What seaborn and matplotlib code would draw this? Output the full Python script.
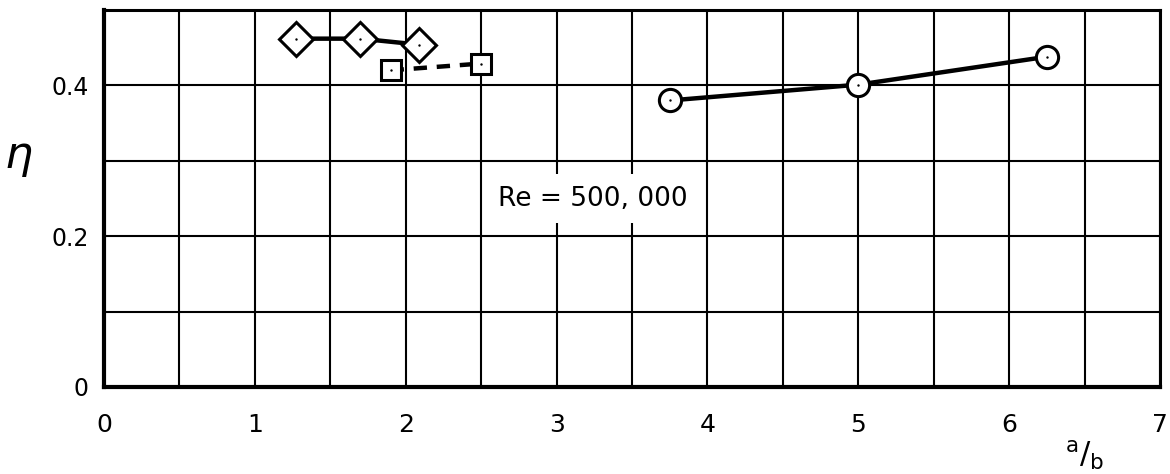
import numpy as np
import pandas as pd
import matplotlib
matplotlib.use("Agg")
import matplotlib.pyplot as plt
import seaborn as sns

# Efficiency eta versus a/b at Re = 500,000
diamond_ab = [1.27, 1.70, 2.09]
diamond_eta = [0.462, 0.462, 0.454]

square_ab = [1.90, 2.50]
square_eta = [0.420, 0.429]

circle_ab = [3.75, 5.00, 6.25]
circle_eta = [0.380, 0.401, 0.438]

x_ticks = [0, 1, 2, 3, 4, 5, 6, 7]
x_tick_labels = ["0", "1", "2", "3", "4", "5", "6", "7"]
y_ticks = [0.0, 0.2, 0.4]
y_tick_labels = ["0", "0.2", "0.4"]

sns.set_style("white")
plt.rcParams["font.family"] = ["DejaVu Sans"]
plt.rcParams["text.color"] = "black"
plt.rcParams["xtick.color"] = "black"
plt.rcParams["ytick.color"] = "black"

fig = plt.figure(figsize=(11.70, 4.74), dpi=100)
ax = fig.add_axes([104 / 1170, 1 - 387 / 474, (1160 - 104) / 1170, (387 - 10) / 474])

df_d = pd.DataFrame({"ab": diamond_ab, "eta": diamond_eta})
df_s = pd.DataFrame({"ab": square_ab, "eta": square_eta})
df_c = pd.DataFrame({"ab": circle_ab, "eta": circle_eta})

line_kw = dict(color="black", linewidth=3.2, markerfacecolor="white",
               markeredgecolor="black", markeredgewidth=2.2, ax=ax, zorder=5)

sns.lineplot(data=df_d, x="ab", y="eta", marker="D", markersize=17, **line_kw)
sns.lineplot(data=df_s, x="ab", y="eta", marker="s", markersize=15,
             linestyle=(0, (3, 2.2)), **line_kw)
sns.lineplot(data=df_c, x="ab", y="eta", marker="o", markersize=16, **line_kw)

# small centre dots in each symbol
for df in (df_d, df_s, df_c):
    sns.scatterplot(data=df, x="ab", y="eta", s=3, color="black", ax=ax,
                    zorder=6, linewidth=0)

ax.set_xlim(0, 7)
ax.set_ylim(0, 0.5)
ax.set_xticks(x_ticks)
ax.set_xticks(np.arange(0.5, 7, 1.0), minor=True)
ax.set_yticks(y_ticks)
ax.set_yticks([0.1, 0.3, 0.5], minor=True)
ax.grid(True, which="both", color="black", linewidth=1.5)
ax.set_axisbelow(True)
ax.set_xticklabels(x_tick_labels, fontsize=18)
ax.set_yticklabels(y_tick_labels, fontsize=17)
ax.tick_params(axis="x", which="both", length=0, pad=19)
ax.tick_params(axis="y", which="both", length=0, pad=11)
ax.set_xlabel("")
ax.set_ylabel("")

for side in ("left", "bottom"):
    ax.spines[side].set_linewidth(3.0)
for side in ("top", "right"):
    ax.spines[side].set_linewidth(2.2)
for sp in ax.spines.values():
    sp.set_color("black")
    sp.set_visible(True)

ax.text(2.61, 0.25, "Re = 500, 000", fontsize=19, ha="left", va="center", zorder=4,
        bbox=dict(boxstyle="square,pad=0.45", facecolor="white", edgecolor="none"))

fig.text(18 / 1170, 1 - 158 / 474, r"$\eta$", fontsize=32, ha="center", va="center")
fig.text(1085 / 1170, 1 - 455 / 474, r"$^{\mathsf{a}}/_{\mathsf{b}}$", fontsize=22,
         ha="center", va="center")

fig.savefig("out.png", dpi=100)
